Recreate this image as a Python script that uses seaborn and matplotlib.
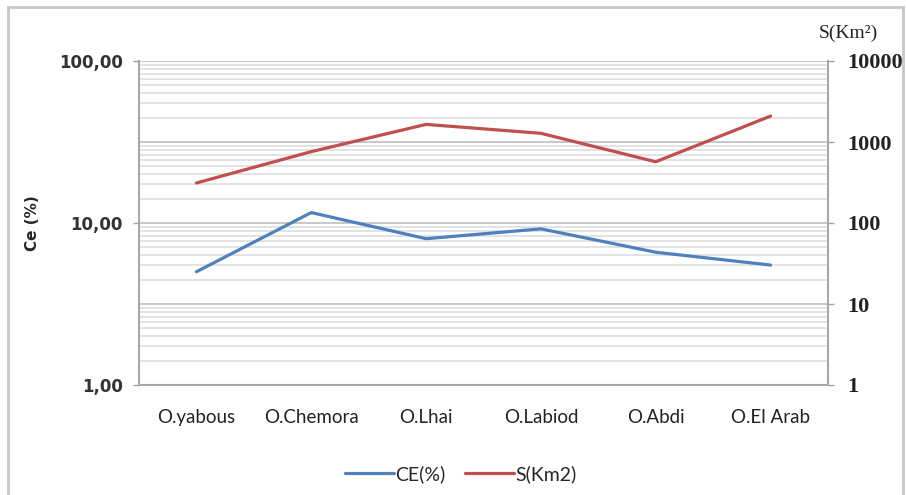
import numpy as np
import matplotlib.pyplot as plt
import matplotlib.ticker as mticker
from matplotlib.patches import Rectangle
import seaborn as sns

# Data
stations = ['O.yabous', 'O.Chemora', 'O.Lhai', 'O.Labiod', 'O.Abdi', 'O.El Arab']
ce_pct = [5.0, 11.6, 8.0, 9.2, 6.6, 5.5]
area_km2 = [312, 760, 1650, 1280, 570, 2090]

blue = '#4F81BD'
red = '#C0504D'

sns.set_style('white')

fig = plt.figure(figsize=(9.06, 4.95), dpi=100)
# outer chart frame
fig.patches.append(Rectangle((8 / 906, -0.05), (903 - 8) / 906, 1 - 7 / 495 + 0.05,
                             transform=fig.transFigure, fill=False,
                             edgecolor='#c8c8c8', linewidth=2))

rect = [139 / 906, 1 - 385 / 495, (828 - 139) / 906, (385 - 61) / 495]
ax2 = fig.add_axes(rect)          # right axis: grid + red line
ax = fig.add_axes(rect)           # left axis: blue line, drawn on top
ax.patch.set_visible(False)
ax2.set_zorder(1)
ax.set_zorder(2)

x = np.arange(len(stations))

# right axis, S(Km2)
sns.lineplot(x=x, y=area_km2, ax=ax2, color=red, linewidth=2.3, sort=False)
ax2.set_yscale('log')
ax2.set_ylim(1, 10000)
ax2.yaxis.tick_right()
ax2.yaxis.set_major_locator(mticker.LogLocator(base=10, numticks=10))
ax2.yaxis.set_minor_locator(mticker.LogLocator(base=10, subs=np.arange(2, 10), numticks=20))
ax2.yaxis.set_major_formatter(mticker.FuncFormatter(lambda v, p: f'{v:.0f}'))
ax2.yaxis.set_minor_formatter(mticker.NullFormatter())
ax2.set_axisbelow(True)
ax2.grid(which='major', axis='y', color='#c4c4c4', linewidth=1.3)
ax2.grid(which='minor', axis='y', color='#e0e0e0', linewidth=1.3)
ax2.tick_params(axis='y', which='major', direction='out', length=4.5, width=1, color='#a0a0a0',
                labelsize=16, pad=9.5, right=True)
ax2.tick_params(axis='y', which='minor', length=0)
for t in ax2.get_yticklabels():
    t.set_fontfamily('Liberation Serif')
    t.set_fontweight('bold')
    t.set_color('#222222')
ax2.set_xticks([])
ax2.set_xlim(-0.5, len(stations) - 0.5)
for s in ['top', 'left', 'bottom']:
    ax2.spines[s].set_visible(False)
ax2.spines['right'].set_color('#a8a8a8')
ax2.spines['right'].set_linewidth(1.5)
ax2.set_ylabel('')

# left axis, CE(%)
sns.lineplot(x=x, y=ce_pct, ax=ax, color=blue, linewidth=2.3, sort=False)
ax.set_yscale('log')
ax.set_ylim(1, 100)
ax.set_xlim(-0.5, len(stations) - 0.5)
ax.yaxis.set_major_locator(mticker.LogLocator(base=10, numticks=10))
ax.yaxis.set_minor_locator(mticker.NullLocator())
ax.yaxis.set_major_formatter(mticker.FuncFormatter(lambda v, p: f'{v:.2f}'.replace('.', ',')))
ax.tick_params(axis='y', which='major', direction='out', length=4.5, width=1, color='#a0a0a0',
               labelsize=12, pad=7, left=True)
for t in ax.get_yticklabels():
    t.set_fontfamily('DejaVu Sans')
    t.set_fontweight('bold')
    t.set_color('#333333')
ax.set_xticks(x)
ax.set_xticklabels(stations, fontsize=13.5, fontfamily='Lato', color='#222222')
ax.tick_params(axis='x', length=0, pad=17)
for s in ['top', 'right']:
    ax.spines[s].set_visible(False)
for s in ['left', 'bottom']:
    ax.spines[s].set_color('#a8a8a8')
    ax.spines[s].set_linewidth(1.5)
ax.set_ylabel('Ce (%)', fontsize=11, fontweight='bold', fontfamily='DejaVu Sans', labelpad=2)
ax.yaxis.set_label_coords(-0.143, 0.5)

fig.text(848 / 906, 1 - 33 / 495, 'S(Km²)', ha='center', va='center',
         fontsize=14, fontfamily='Liberation Serif', color='#222222')

handles = [plt.Line2D([], [], color=blue, linewidth=2.3),
           plt.Line2D([], [], color=red, linewidth=2.3)]
fig.legend(handles, ['CE(%)', 'S(Km2)'], loc='center', bbox_to_anchor=(461 / 906, 1 - 474 / 495),
           ncol=2, frameon=False, prop={'family': 'Lato', 'size': 14},
           handlelength=2.5, handletextpad=0.1, columnspacing=1.0)

fig.savefig('out.png', dpi=100)
